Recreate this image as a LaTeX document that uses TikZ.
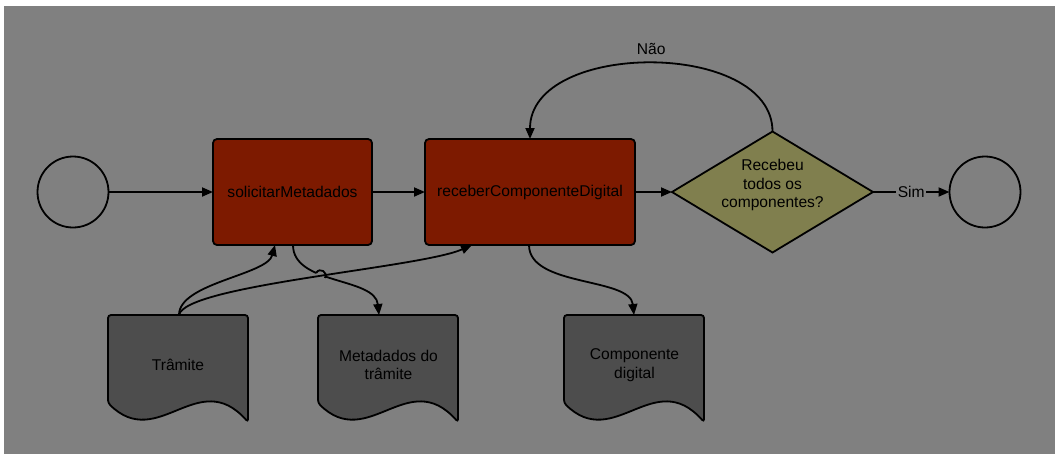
\documentclass[tikz,border=0pt]{standalone}
\usepackage{fontspec}
\setmainfont{Liberation Sans}
\usetikzlibrary{arrows.meta,shapes.geometric,intersections,calc}
\definecolor{bg}{RGB}{128,128,128}
\definecolor{boxred}{RGB}{125,26,0}
\definecolor{olivefill}{RGB}{128,127,78}
\definecolor{docgray}{RGB}{77,77,77}
\tikzset{
  txt/.style={font=\fontsize{15.6}{18.5}\selectfont, text=black},
  conn/.style={draw=black, line width=1.8pt, -{Triangle[length=11pt,width=9pt]}},
  plain/.style={draw=black, line width=1.8pt},
  task/.style={txt, draw=black, line width=1.8pt, fill=boxred, rounded corners=4pt,
    minimum height=106pt, inner sep=0pt, outer sep=0pt},
  event/.style={circle, draw=black, line width=1.8pt, minimum size=71pt, inner sep=0pt, outer sep=0pt},
  decision/.style={diamond, draw=black, line width=1.8pt, fill=olivefill,
    minimum width=201pt, minimum height=121pt, inner sep=0pt, outer sep=0pt},
  docarea/.style={txt, align=center, minimum width=140pt, minimum height=100pt, inner sep=0pt, outer sep=0pt},
  docpic/.pic={\draw[plain, fill=docgray, rounded corners=3pt]
      (140,107) -- (140,0) -- (0,0) -- (0,88) .. controls (50,137) and (90,51) .. (140,107) -- cycle;}
}
\begin{document}
\begin{tikzpicture}[x=1pt,y=-1pt]
\useasboundingbox (0,0) rectangle (1061,464);
\fill[white] (0,0) rectangle (1061,464);
\fill[bg] (4,6) rectangle (1055,454);

% documents
\pic at (108,315) {docpic};
\pic at (318,315) {docpic};
\pic at (564,315) {docpic};
\node[docarea] (tram) at (178,365) {Trâmite};
\node[docarea] (meta) at (388.5,365) {Metadados do\\trâmite};
\node[docarea] (comp) at (634.5,365) {Componente\\digital};

% main nodes
\node[event] (start) at (73,192) {};
\node[task, minimum width=159pt] (sol) at (292.5,192) {solicitarMetadados};
\node[task, minimum width=210pt] (rec) at (530,192) {receberComponenteDigital};
\node[decision] (dec) at (772.5,192) {};
\node[txt, align=center] (dectext) at (772.5,185) {Recebeu\\todos os\\componentes?};
\node[event] (end) at (985,192) {};

% main flow
\draw[conn] (start) -- (sol);
\draw[conn] (sol) -- (rec);
\draw[conn] (rec) -- (dec);
\draw[conn] (dec) -- node[txt, fill=bg, inner sep=1.5pt] (sim) {Sim} (end);
\draw[conn] (dec.north) .. controls +(0,-92) and +(0,-99) .. (rec.north)
  node[txt, pos=0.5, above=5pt] (nao) {Não};

% data flows
\draw[conn] ([xshift=1pt]tram.north) .. controls +(0,-32) and +(-8,30) .. ([xshift=-17.5pt]sol.south);
\draw[conn, name path=mcurve] ([xshift=0.5pt]sol.south) .. controls +(0,40) and +(-4,-38) .. ([xshift=-9.5pt]meta.north);
\path[name path=tline] ([xshift=1pt]tram.north) .. controls +(6,-30) and +(-52,23) .. ([xshift=-58pt]rec.south);
\path[name intersections={of=mcurve and tline, by=X}];
\fill[bg] (X) circle (5pt);
\draw[conn] ([xshift=1pt]tram.north) .. controls +(6,-30) and +(-52,23) .. ([xshift=-58pt]rec.south);
\draw[plain] ($(X)+(-4.3,-2.6)$) .. controls +(3.4,-5.8) and +(3.4,-5.8) .. ($(X)+(4.3,2.6)$);
\draw[conn] ([xshift=-1pt]rec.south) .. controls +(0,42) and +(-4,-38) .. ([xshift=-0.5pt]comp.north);
\end{tikzpicture}
\end{document}
